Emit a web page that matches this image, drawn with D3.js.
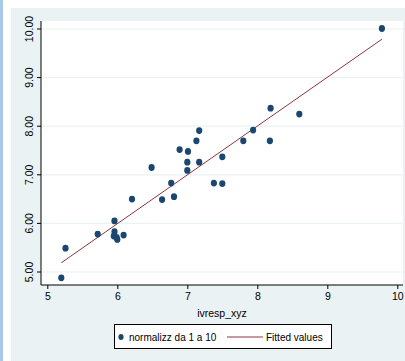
<!doctype html>
<html lang="en">
<head>
<meta charset="UTF-8">
<script src="https://cdnjs.cloudflare.com/ajax/libs/d3/7.8.5/d3.min.js"></script>
<title>scatter</title>
<style>
  body { margin: 0; background: #fff; }
  text { font-family: "Liberation Sans", Arial, sans-serif; }
</style>
</head>
<body>
<div id="viz_area"></div>
<script>
    // scatter values
    const xVals = [5.20, 5.26, 5.72, 5.96, 5.96, 5.95, 5.99, 6.00, 6.09, 6.21, 6.49, 6.64,
                   6.77, 6.81, 6.89, 7.00, 7.00, 7.01, 7.13, 7.17, 7.17, 7.38, 7.50, 7.50,
                   7.80, 7.94, 8.18, 8.19, 8.60, 9.78];
    const yVals = [4.88, 5.49, 5.78, 6.05, 5.83, 5.74, 5.71, 5.67, 5.76, 6.50, 7.15, 6.49,
                   6.83, 6.55, 7.52, 7.09, 7.26, 7.48, 7.70, 7.26, 7.91, 6.83, 7.37, 6.82,
                   7.70, 7.92, 7.70, 8.37, 8.25, 10.01];
    // fitted line end points
    const fitX = [5.20, 9.78];
    const fitY = [5.19, 9.79];
    const xTicks = [5, 6, 7, 8, 9, 10];
    const yTicks = [5, 6, 7, 8, 9, 10];
    const legendLabels = ["normalizz da 1 a 10", "Fitted values"];

    const W = 405, H = 361;
    const navy = "#1a476f", maroon = "#90353b", bg = "#eaf2f3";

    const svg = d3.select("#viz_area").append("svg")
        .attr("width", W).attr("height", H);

    // window edge + graph background
    svg.append("rect").attr("x", 0).attr("y", 0).attr("width", 3).attr("height", H).attr("fill", "#a9c9ea");
    svg.append("rect").attr("x", 11).attr("y", 8).attr("width", W - 11).attr("height", H - 8).attr("fill", bg);

    const plot = {left: 41, right: 403, top: 21, bottom: 285};
    svg.append("rect")
        .attr("x", plot.left).attr("y", plot.top)
        .attr("width", plot.right - plot.left).attr("height", plot.bottom - plot.top)
        .attr("fill", "#fff");

    const x = d3.scaleLinear().domain([5, 10]).range([47.3, 397.3]);
    const y = d3.scaleLinear().domain([5, 10]).range([272, 29]);

    // grid lines
    svg.append("g").selectAll("line").data(yTicks).join("line")
        .attr("x1", plot.left).attr("x2", plot.right)
        .attr("y1", d => y(d)).attr("y2", d => y(d))
        .attr("stroke", bg).attr("stroke-width", 1.2);

    // axes
    const xAxis = svg.append("g")
        .attr("transform", `translate(0,${plot.bottom})`)
        .call(d3.axisBottom(x).tickValues(xTicks).tickFormat(d3.format("d")).tickSize(4).tickPadding(4));
    xAxis.select(".domain").attr("d", `M${plot.left},0H${plot.right}`);
    xAxis.selectAll("text").attr("font-size", 10.5).attr("fill", "#000")
        .attr("font-family", "'Liberation Sans', Arial, sans-serif");

    const yAxis = svg.append("g")
        .attr("transform", `translate(${plot.left},0)`)
        .call(d3.axisLeft(y).tickValues(yTicks).tickFormat(d3.format(".2f")).tickSize(4));
    yAxis.select(".domain").attr("d", `M0,${plot.top}V${plot.bottom}`);
    yAxis.selectAll("text")
        .attr("font-size", 10.5).attr("fill", "#000")
        .attr("font-family", "'Liberation Sans', Arial, sans-serif")
        .attr("text-anchor", "middle").attr("dy", null).attr("x", null)
        .attr("transform", d => `translate(-8,${y(d)}) rotate(-90)`)
        .attr("y", 0);
    yAxis.selectAll(".tick").attr("transform", null);
    yAxis.selectAll(".tick line").attr("transform", d => `translate(0,${y(d)})`);

    svg.append("text")
        .attr("x", 222).attr("y", 317)
        .attr("text-anchor", "middle").attr("font-size", 10.5)
        .text("ivresp_xyz");

    // fitted line
    svg.append("line")
        .attr("x1", x(fitX[0])).attr("y1", y(fitY[0]))
        .attr("x2", x(fitX[1])).attr("y2", y(fitY[1]))
        .attr("stroke", maroon).attr("stroke-width", 1);

    // points
    svg.append("g").selectAll("ellipse").data(xVals).join("ellipse")
        .attr("cx", (d, i) => x(d)).attr("cy", (d, i) => y(yVals[i]))
        .attr("rx", 3.1).attr("ry", 3.4)
        .attr("fill", navy);

    // legend
    const lg = svg.append("g");
    lg.append("rect").attr("x", 114.5).attr("y", 324.5).attr("width", 217).attr("height", 24)
        .attr("fill", "#fff").attr("stroke", "#000").attr("stroke-width", 1);
    lg.append("ellipse").attr("cx", 121).attr("cy", 337).attr("rx", 2.6).attr("ry", 3)
        .attr("fill", navy);
    lg.append("text").attr("x", 129).attr("y", 341).attr("font-size", 10).text(legendLabels[0]);
    lg.append("line").attr("x1", 227).attr("x2", 263).attr("y1", 337).attr("y2", 337)
        .attr("stroke", maroon).attr("stroke-width", 1);
    lg.append("text").attr("x", 266).attr("y", 341).attr("font-size", 10).text(legendLabels[1]);
</script>
</body>
</html>
